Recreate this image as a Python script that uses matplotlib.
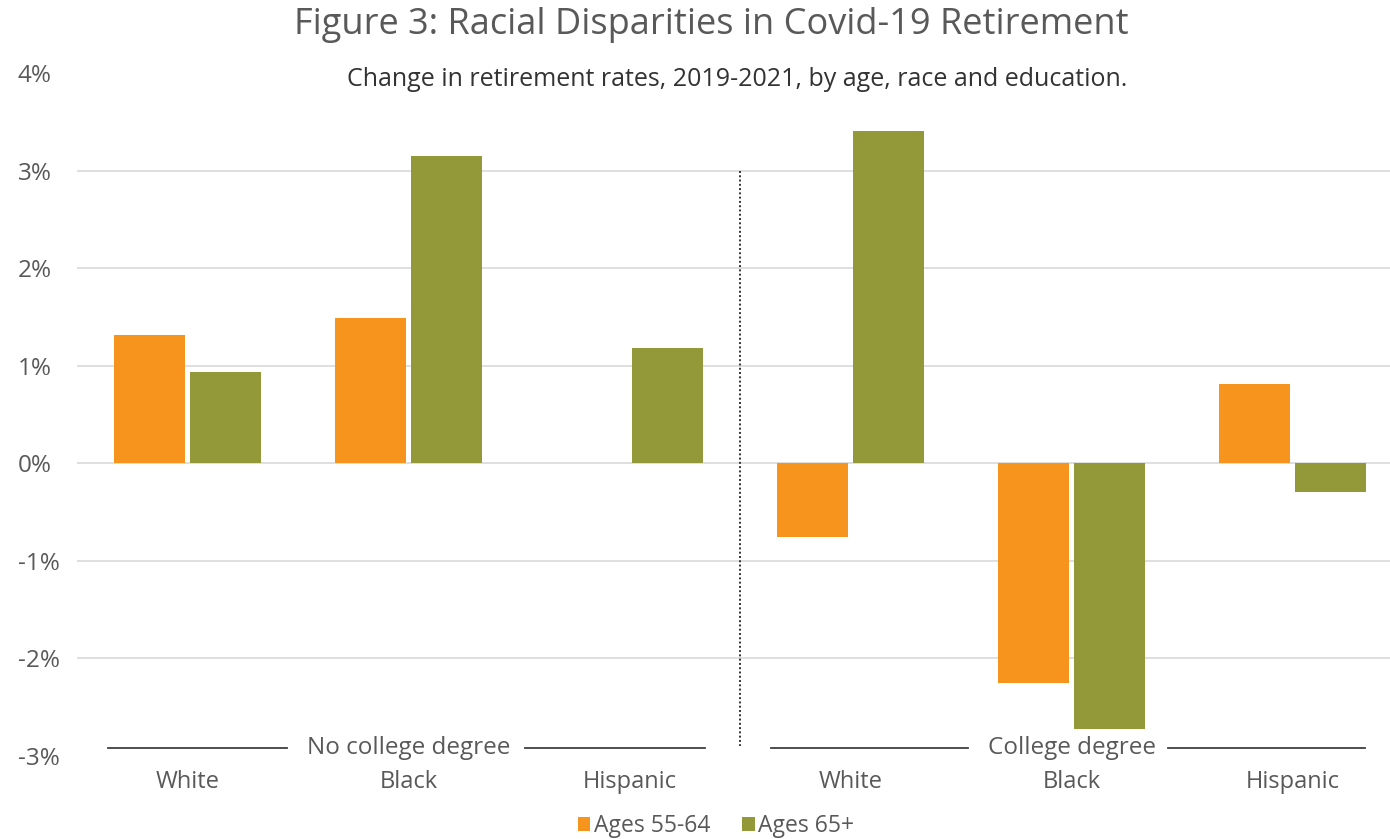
import matplotlib
matplotlib.use("Agg")
import matplotlib.pyplot as plt
import numpy as np

plt.rcParams['font.family'] = ['Open Sans', 'DejaVu Sans']

categories = ["White", "Black", "Hispanic", "White", "Black", "Hispanic"]
groups = ["No college degree", "College degree"]
ages_55_64 = [1.31, 1.49, 0.0, -0.76, -2.25, 0.81]
ages_65_plus = [0.94, 3.15, 1.18, 3.41, -2.72, -0.29]
series_names = ["Ages 55-64", "Ages 65+"]
yticks = [-3, -2, -1, 0, 1, 2, 3, 4]

ORANGE = "#F7941D"
OLIVE = "#939838"
TXT = "#595959"

W, H = 1390, 839
fig = plt.figure(figsize=(W/100, H/100), dpi=100)
ax = fig.add_axes([77/W, 1-756/H, 1326/W, (756-73)/H])

x = np.arange(len(categories))
bw = 0.32
off = 0.172
ax.bar(x - off, ages_55_64, bw, color=ORANGE, zorder=3, label=series_names[0])
ax.bar(x + off, ages_65_plus, bw, color=OLIVE, zorder=3, label=series_names[1])

ax.set_xlim(-0.5, 5.5)
ax.set_ylim(-3, 4)
for s in ax.spines.values():
    s.set_visible(False)
for g in [-2, -1, 0, 1, 2, 3]:
    ax.axhline(g, color="#D9D9D9", lw=1.2, zorder=1)
ax.set_yticks(yticks)
ax.set_yticklabels([f"{t}%" for t in yticks], color=TXT, fontsize=17.5)
for lab in ax.get_yticklabels():
    lab.set_horizontalalignment('left')
ax.tick_params(axis='y', length=0, pad=42.5)
ax.set_xticks(x)
ax.set_xticklabels(categories, color=TXT, fontsize=17)
ax.tick_params(axis='x', length=0, pad=10)

# divider between groups
ax.plot([2.5, 2.5], [3, -2.9], ls=(0, (1, 1.2)), color="#333333", lw=1.4, zorder=2, clip_on=False)

# group brackets
bracket = [(-1.36, -0.55, 0.527, 1.34), (-1.36, -0.47, 0.437, 1.33)]
for gi, name in enumerate(groups):
    c = 1 + 3*gi
    a1, a2, b1, b2 = bracket[gi]
    ax.text(c, -2.92, name, ha='center', va='center', fontsize=17.5, color=TXT, zorder=4)
    ax.plot([c + a1, c + a2], [-2.92, -2.92], color="#404040", lw=1.3, clip_on=False)
    ax.plot([c + b1, c + b2], [-2.92, -2.92], color="#404040", lw=1.3, clip_on=False)

fig.text(711/W, 1-25/H, "Figure 3: Racial Disparities in Covid-19 Retirement", ha='center', va='center',
         fontsize=26, color=TXT)
fig.text(737/W, 1-79/H, "Change in retirement rates, 2019-2021, by age, race and education.", ha='center',
         va='center', fontsize=18, color="#333333")

leg = fig.legend(loc='center', bbox_to_anchor=(716/W, 1-826/H), ncol=2, frameon=False, fontsize=16.5,
                 handlelength=0.55, handleheight=0.55, handletextpad=0.15, columnspacing=1.4,
                 labelcolor=TXT)

fig.savefig("out.png", dpi=100)
